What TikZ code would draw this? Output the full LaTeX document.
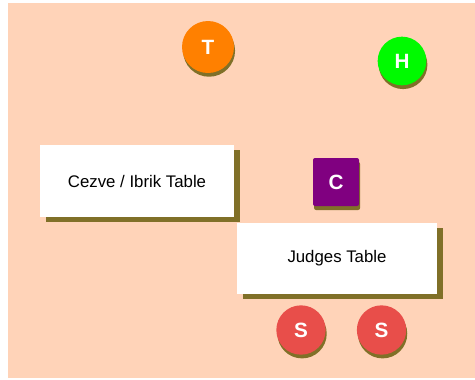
\documentclass[tikz,border=0pt]{standalone}
\usepackage{fontspec}
\setmainfont{Liberation Sans}
\usetikzlibrary{positioning,shadows}

\definecolor{peach}{RGB}{255,211,184}
\definecolor{shadowcol}{RGB}{128,112,40}
\definecolor{tasterorange}{RGB}{255,128,0}
\definecolor{headgreen}{RGB}{0,250,0}
\definecolor{sensoryred}{RGB}{232,78,74}
\definecolor{coachpurple}{RGB}{128,0,128}

\tikzset{
  person/.style={circle, inner sep=0pt, minimum size=37pt, text=white,
    font=\fontsize{15.5}{15}\selectfont\bfseries,
    general shadow={shadow xshift=0.8pt, shadow yshift=-2.8pt, fill=shadowcol}},
  tablebox/.style={rectangle, fill=white, inner sep=0pt,
    font=\fontsize{12.6}{15}\selectfont,
    general shadow={shadow xshift=4.5pt, shadow yshift=-4pt, fill=shadowcol}}
}

\begin{document}
\begin{tikzpicture}[x=0.75pt, y=-0.75pt, node distance=23pt]
\useasboundingbox (0,0) rectangle (475,379);
\fill[peach] (8,3) rectangle (475,378);

\node (taster) [person, fill=tasterorange, minimum size=39pt] at (208,47) {T};
\node (head) [person, fill=headgreen, minimum size=36.5pt] at (402,61) {H};

\node (cezve) [tablebox, minimum width=145.5pt, minimum height=54pt] at (137,181) {Cezve / Ibrik Table};
\node (coach) [rectangle, rounded corners=1.5pt, fill=coachpurple, text=white, inner sep=0pt,
  minimum width=34.5pt, minimum height=36pt, font=\fontsize{15.5}{15}\selectfont\bfseries,
  general shadow={shadow xshift=0.8pt, shadow yshift=-3pt, fill=shadowcol}] at (336,182) {C};
\node (judges) [tablebox, minimum width=150pt, minimum height=53.3pt] at (337,258.5) {Judges Table};

\node (sens1) [person, fill=sensoryred] at (301,330) {S};
\node (sens2) [person, fill=sensoryred, right=of sens1] {S};
\end{tikzpicture}
\end{document}
